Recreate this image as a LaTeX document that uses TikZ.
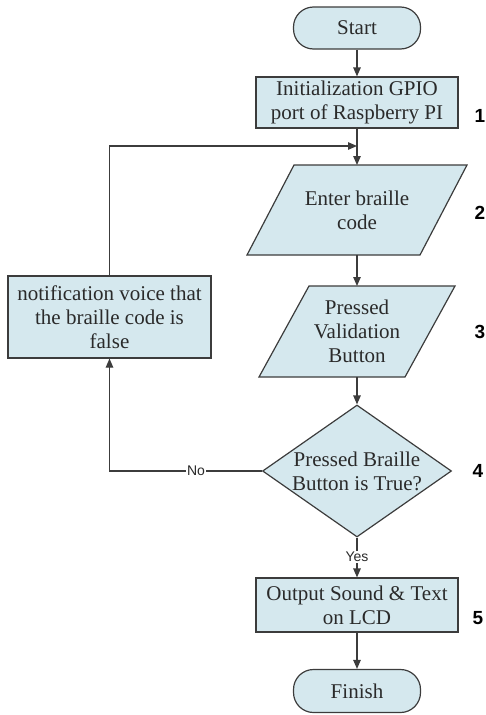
\documentclass[tikz,border=0pt]{standalone}
\usepackage{fontspec}
\setmainfont{Liberation Serif}
\newfontfamily\numfont{Liberation Sans}
\usetikzlibrary{arrows.meta,shapes.geometric,calc}
\definecolor{boxfill}{HTML}{D5E8EE}
\definecolor{edgecol}{HTML}{3C3C3C}
\definecolor{ink}{HTML}{2A2A2A}
\tikzset{
  base/.style={draw=edgecol, fill=boxfill, line width=1.2pt, inner sep=0pt, text=ink,
    font=\fontsize{21}{24}\selectfont, align=center},
  termbox/.style={base, rounded corners=20pt, minimum width=127pt, minimum height=42pt},
  procbox/.style={base, minimum width=202pt, minimum height=51pt},
  shell/.style={inner sep=0pt, outer sep=0pt},
  txt/.style={text=ink, font=\fontsize{21}{24}\selectfont, align=center, inner sep=0pt},
  conn/.style={draw=edgecol, line width=1.2pt, -{Triangle[length=9pt,width=7.5pt]}},
  stepnum/.style={font=\numfont\bfseries\fontsize{19}{19}\selectfont, text=black, inner sep=0pt},
  yn/.style={font=\numfont\fontsize{14}{14}\selectfont, fill=white, inner sep=1pt, text=ink},
}
\begin{document}
\begin{tikzpicture}[x=1pt,y=-1pt]
\useasboundingbox (0,0) rectangle (486,715);

% Start
\node[termbox] (start) at (357,28) {Start};
% Init
\node[procbox] (init) at (357,102.5) {Initialization GPIO\\port of Raspberry PI};
% Enter braille code (parallelogram)
\node[shell, minimum width=173pt, minimum height=90pt] (enter) at (357,210) {};
\path[base] ([xshift=23.5pt]enter.north west) -- ([xshift=23.5pt]enter.north east)
  -- ([xshift=-23.5pt]enter.south east) -- ([xshift=-23.5pt]enter.south west) -- cycle;
\node[txt] (entertxt) at (enter) {Enter braille\\code};
% Pressed validation button (parallelogram)
\node[shell, minimum width=146pt, minimum height=91pt] (press) at (357,331.5) {};
\path[base] ([xshift=25pt]press.north west) -- ([xshift=25pt]press.north east)
  -- ([xshift=-25pt]press.south east) -- ([xshift=-25pt]press.south west) -- cycle;
\node[txt] (presstxt) at (press) {Pressed\\Validation\\Button};
% Decision
\node[diamond, draw=edgecol, fill=boxfill, line width=1.2pt, inner sep=0pt,
  minimum width=189pt, minimum height=132pt] (dec) at (357,471) {};
\node[txt] (dectxt) at (dec) {Pressed Braille\\Button is True?};
% Notification
\node[base, minimum width=203pt, minimum height=82pt] (notif) at (109.5,317)
  {notification voice that\\the braille code is\\false};
% Output
\node[procbox, minimum height=54pt] (out) at (357,605) {Output Sound \& Text\\on LCD};
% Finish
\node[termbox, minimum height=43pt] (finish) at (357,691) {Finish};

% merge point
\coordinate (merge) at (357,146);

% connectors
\draw[conn] (start.south) -- (init.north);
\draw[conn] (init.south) -- (enter.north);
\draw[conn] (notif.north) |- (merge);
\draw[conn] (enter.south) -- (press.north);
\draw[conn] (press.south) -- (dec.north);
\draw[conn] (dec.west) -| node[yn, pos=0.216] (nolab) {No} (notif.south);
\draw[conn] (dec.south) -- node[yn, pos=0.49] (yeslab) {Yes} (out.north);
\draw[conn] (out.south) -- (finish.north);

% step numbers
\node[stepnum] (n1) at (480,116) {1};
\node[stepnum] (n2) at (480,213) {2};
\node[stepnum] (n3) at (480,332) {3};
\node[stepnum] (n4) at (478,471) {4};
\node[stepnum] (n5) at (478,618) {5};
\end{tikzpicture}
\end{document}
